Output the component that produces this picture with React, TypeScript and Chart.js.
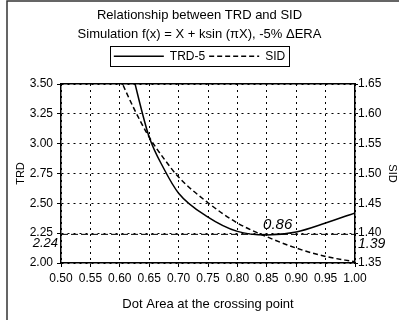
import React, { useEffect, useRef } from "react";
import { Chart, registerables } from "chart.js";

Chart.register(...registerables);

// ---- data ----
const dotArea = [0.6, 0.625, 0.65, 0.675, 0.7, 0.75, 0.8, 0.85, 0.9, 0.95, 1.0];
const trd5 = [4.05, 3.52, 3.055, 2.79, 2.585, 2.385, 2.265, 2.235, 2.26, 2.335, 2.42];
const sid = [1.66, 1.607, 1.561, 1.525, 1.494, 1.451, 1.417, 1.394, 1.375, 1.361, 1.352];

const xRange = [0.5, 1.0];
const trdRange = [2.0, 3.5];
const sidRange = [1.35, 1.65];

const crossX = 0.86;
const crossTRD = 2.24;
const crossSID = 1.39;

const titleText = "Relationship between TRD and SID";
const subtitleText = "Simulation f(x) = X + ksin (\u03C0X), -5% \u0394ERA";
const seriesNames = ["TRD-5", "SID"];
const xTitle = "Dot Area at the crossing point";

export default function App() {
  const ref = useRef<HTMLCanvasElement>(null);

  useEffect(() => {
    const FONT = "'Liberation Sans', Arial, Helvetica, sans-serif";
    Chart.defaults.font.family = FONT;
    Chart.defaults.color = "#000";

    const fmt = (v: any) => Number(v).toFixed(2);

    const decor = {
      id: "decor",
      beforeDraw(chart: any) {
        const ctx = chart.ctx;
        ctx.save();
        ctx.strokeStyle = "#333";
        ctx.lineWidth = 1.5;
        ctx.beginPath();
        ctx.moveTo(7, 320);
        ctx.lineTo(7, 1);
        ctx.lineTo(399, 1);
        ctx.stroke();
        ctx.restore();
      },
      afterDraw(chart: any) {
        const ctx = chart.ctx;
        const lg = chart.legend;
        const hb = lg && lg.legendHitBoxes;
        ctx.save();
        if (hb && hb.length) {
          let l = Infinity, r = -Infinity;
          hb.forEach((b: any) => {
            l = Math.min(l, b.left);
            r = Math.max(r, b.left + b.width);
          });
          const t = hb[0].top;
          const h = hb[0].height;
          ctx.strokeStyle = "#000";
          ctx.lineWidth = 1;
          ctx.strokeRect(Math.round(l - 4) + 0.5, Math.round(t - 4) + 0.5, Math.round(r - l + 8), Math.round(h + 8));
        }
        const xs = chart.scales.x;
        const ys = chart.scales.y;
        const y1s = chart.scales.y1;
        ctx.fillStyle = "#000";
        ctx.textBaseline = "middle";
        ctx.font = `italic 13px ${FONT}`;
        ctx.textAlign = "right";
        ctx.fillText(crossTRD.toFixed(2), chart.chartArea.left - 3, ys.getPixelForValue(crossTRD) + 9);
        ctx.font = `italic 14px ${FONT}`;
        ctx.textAlign = "left";
        ctx.fillText(crossSID.toFixed(2), chart.chartArea.right + 3, y1s.getPixelForValue(crossSID) + 5);
        ctx.font = `italic 15px ${FONT}`;
        ctx.textAlign = "center";
        ctx.fillText(crossX.toFixed(2), xs.getPixelForValue(crossX) + 5, ys.getPixelForValue(crossTRD) - 10);
        ctx.restore();
      },
    };

    const chart = new Chart(ref.current!, {
      type: "line",
      data: {
        datasets: [
          {
            label: seriesNames[0],
            data: dotArea.map((x, i) => ({ x, y: trd5[i] })),
            borderColor: "#000",
            backgroundColor: "#000",
            borderWidth: 1.5,
            pointRadius: 0,
            cubicInterpolationMode: "monotone",
            xAxisID: "x",
            yAxisID: "y",
          },
          {
            label: seriesNames[1],
            data: dotArea.map((x, i) => ({ x, y: sid[i] })),
            borderColor: "#000",
            backgroundColor: "#000",
            borderWidth: 1.5,
            borderDash: [5, 3],
            pointRadius: 0,
            cubicInterpolationMode: "monotone",
            xAxisID: "x",
            yAxisID: "y1",
          },
          {
            label: "cross",
            data: [
              { x: xRange[0], y: crossTRD },
              { x: xRange[1], y: crossTRD },
            ],
            borderColor: "#000",
            borderWidth: 1,
            borderDash: [7, 3],
            pointRadius: 0,
            tension: 0,
            xAxisID: "x",
            yAxisID: "y",
          },
        ],
      },
      options: {
        responsive: false,
        animation: false,
        events: [],
        layout: { padding: 0 },
        plugins: {
          title: {
            display: true,
            text: titleText,
            color: "#000",
            font: { size: 13, weight: "normal" },
            padding: { top: 8, bottom: 0 },
          },
          subtitle: {
            display: true,
            text: subtitleText,
            color: "#000",
            font: { size: 13, weight: "normal" },
            padding: { top: 3, bottom: 4 },
          },
          legend: {
            display: true,
            position: "top",
            labels: {
              usePointStyle: true,
              pointStyle: "line",
              pointStyleWidth: 50,
              padding: 4,
              color: "#000",
              font: { size: 12 },
              generateLabels: (c: any) => {
                const items = (Chart as any).defaults.plugins.legend.labels.generateLabels(c);
                return items
                  .filter((it: any) => it.datasetIndex < 2)
                  .map((it: any) => ({
                    ...it,
                    pointStyle: "line",
                    lineWidth: 1.5,
                    strokeStyle: "#000",
                    lineDash: c.data.datasets[it.datasetIndex].borderDash || [],
                  }));
              },
            },
          },
          tooltip: { enabled: false },
        },
        scales: {
          x: {
            type: "linear",
            position: "bottom",
            min: xRange[0],
            max: xRange[1],
            afterFit: (s: any) => {
              s.height = 57;
            },
            ticks: {
              stepSize: 0.05,
              autoSkip: false,
              maxRotation: 0,
              padding: 4,
              color: "#000",
              font: { size: 12 },
              callback: fmt,
            },
            grid: {
              color: "#000",
              lineWidth: 1,
              tickLength: 4,
              tickColor: "#000",
              tickWidth: 1,
              tickBorderDash: [],
            },
            border: { display: true, color: "#000", width: 1.5, dash: [2, 4] },
            title: {
              display: true,
              text: xTitle,
              color: "#000",
              font: { size: 13 },
              padding: { top: 0, bottom: 8 },
            },
          },
          x2: {
            type: "linear",
            position: "top",
            min: xRange[0],
            max: xRange[1],
            afterFit: (s: any) => {
              s.height = 11.8;
            },
            ticks: { display: false },
            grid: { display: false },
            border: { display: true, color: "#000", width: 1.5 },
          },
          y: {
            type: "linear",
            position: "left",
            min: trdRange[0],
            max: trdRange[1],
            afterFit: (s: any) => {
              s.width = 61;
            },
            ticks: {
              stepSize: 0.25,
              padding: 4,
              color: "#000",
              font: { size: 12 },
              callback: fmt,
            },
            grid: {
              color: "#000",
              lineWidth: 1,
              tickLength: 4,
              tickColor: "#000",
              tickWidth: 1,
              tickBorderDash: [],
            },
            border: { display: true, color: "#000", width: 1.5, dash: [2, 4] },
            title: {
              display: true,
              text: "TRD",
              color: "#000",
              font: { size: 11 },
              padding: { top: 14, bottom: 0 },
            },
          },
          y1: {
            type: "linear",
            position: "right",
            min: sidRange[0],
            max: sidRange[1],
            afterFit: (s: any) => {
              s.width = 44;
            },
            ticks: {
              stepSize: 0.05,
              padding: 0,
              color: "#000",
              font: { size: 12 },
              callback: fmt,
            },
            grid: {
              display: true,
              drawOnChartArea: false,
              drawTicks: true,
              tickLength: 3,
              tickColor: "#000",
              tickWidth: 1,
              tickBorderDash: [],
            },
            border: { display: true, color: "#000", width: 1.5 },
            title: {
              display: true,
              text: "SID",
              color: "#000",
              font: { size: 11 },
              padding: { top: 0, bottom: 0 },
            },
          },
        },
      },
      plugins: [decor],
    } as any);

    return () => chart.destroy();
  }, []);

  return (
    <div style={{ position: "absolute", left: 0, top: 0, width: 399, height: 320, background: "#fff" }}>
      <canvas ref={ref} width={399} height={320} style={{ display: "block" }} />
    </div>
  );
}
